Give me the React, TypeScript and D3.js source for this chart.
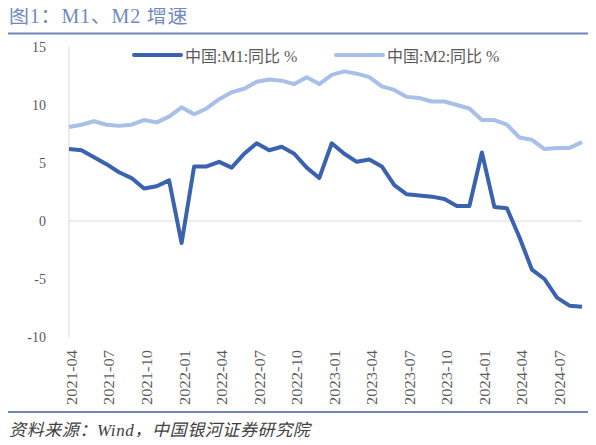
import React, { useRef, useEffect } from 'react';
import * as d3 from 'd3';

const months: string[] = [
  '2021-04', '2021-05', '2021-06', '2021-07', '2021-08', '2021-09', '2021-10', '2021-11', '2021-12',
  '2022-01', '2022-02', '2022-03', '2022-04', '2022-05', '2022-06', '2022-07', '2022-08', '2022-09',
  '2022-10', '2022-11', '2022-12',
  '2023-01', '2023-02', '2023-03', '2023-04', '2023-05', '2023-06', '2023-07', '2023-08', '2023-09',
  '2023-10', '2023-11', '2023-12',
  '2024-01', '2024-02', '2024-03', '2024-04', '2024-05', '2024-06', '2024-07', '2024-08', '2024-09',
];

const m1: number[] = [
  6.2, 6.1, 5.5, 4.9, 4.2, 3.7, 2.8, 3.0, 3.5,
  -1.9, 4.7, 4.7, 5.1, 4.6, 5.8, 6.7, 6.1, 6.4, 5.8, 4.6, 3.7,
  6.7, 5.8, 5.1, 5.3, 4.7, 3.1, 2.3, 2.2, 2.1, 1.9, 1.3, 1.3,
  5.9, 1.2, 1.1, -1.4, -4.2, -5.0, -6.6, -7.3, -7.4,
];

const m2: number[] = [
  8.1, 8.3, 8.6, 8.3, 8.2, 8.3, 8.7, 8.5, 9.0,
  9.8, 9.2, 9.7, 10.5, 11.1, 11.4, 12.0, 12.2, 12.1, 11.8, 12.4, 11.8,
  12.6, 12.9, 12.7, 12.4, 11.6, 11.3, 10.7, 10.6, 10.3, 10.3, 10.0, 9.7,
  8.7, 8.7, 8.3, 7.2, 7.0, 6.2, 6.3, 6.3, 6.8,
];

const yTicks: number[] = [-10, -5, 0, 5, 10, 15];
const seriesNames: string[] = ['中国:M1:同比 %', '中国:M2:同比 %'];
const colors: string[] = ['#3a62ae', '#a8bfe8'];

const W = 596;
const H = 445;
const serif = '"Liberation Serif", "Times New Roman", serif';
const cjk = '"Noto Sans CJK SC", sans-serif';

const Chart: React.FC = () => {
  const svgRef = useRef<SVGSVGElement | null>(null);

  useEffect(() => {
    const svg = d3.select(svgRef.current);
    svg.selectAll('*').remove();

    const x = d3.scalePoint<string>().domain(months).range([69, 582]);
    const y = d3.scaleLinear().domain([-10, 15]).range([337, 47]);

    // title and rules
    svg.append('text')
      .attr('x', 9).attr('y', 23)
      .attr('font-family', `${serif}, ${cjk}`)
      .attr('font-size', 20)
      .attr('letter-spacing', 0.8)
      .attr('fill', '#7288bd')
      .text('图1：M1、M2 增速');
    svg.append('line')
      .attr('x1', 8).attr('x2', W).attr('y1', 33.5).attr('y2', 33.5)
      .attr('stroke', '#6e86b8').attr('stroke-width', 2);
    svg.append('line')
      .attr('x1', 8).attr('x2', W).attr('y1', 412).attr('y2', 412)
      .attr('stroke', '#6e86b8').attr('stroke-width', 2);
    svg.append('text')
      .attr('x', 9).attr('y', 436)
      .attr('font-family', `${serif}, ${cjk}`)
      .attr('font-style', 'italic')
      .attr('font-size', 17)
      .attr('letter-spacing', 0.6)
      .attr('fill', '#404040')
      .text('资料来源：Wind，中国银河证券研究院');

    // y axis
    svg.append('line')
      .attr('x1', 69).attr('x2', 69).attr('y1', y(15)).attr('y2', y(-10))
      .attr('stroke', '#d9d9d9').attr('stroke-width', 1);
    svg.append('line')
      .attr('x1', 69).attr('x2', 582).attr('y1', y(0)).attr('y2', y(0))
      .attr('stroke', '#d9d9d9').attr('stroke-width', 1);

    svg.append('g')
      .selectAll('text')
      .data(yTicks)
      .enter()
      .append('text')
      .attr('x', 46)
      .attr('y', d => y(d))
      .attr('dy', '0.35em')
      .attr('text-anchor', 'end')
      .attr('font-family', serif)
      .attr('font-size', 14)
      .attr('fill', '#595959')
      .text(d => d);

    // x labels
    const labelMonths = months.filter((_, i) => i % 3 === 0);
    svg.append('g')
      .selectAll('text')
      .data(labelMonths)
      .enter()
      .append('text')
      .attr('transform', d => `translate(${(x(d) ?? 0) + 3},350) rotate(-90)`)
      .attr('dy', '0.35em')
      .attr('text-anchor', 'end')
      .attr('font-family', serif)
      .attr('font-size', 14)
      .attr('textLength', 55)
      .attr('lengthAdjust', 'spacingAndGlyphs')
      .attr('fill', '#595959')
      .text(d => d);

    // lines
    const line = d3.line<number>()
      .x((_, i) => x(months[i]) ?? 0)
      .y(d => y(d));

    [m2, m1].forEach((s, k) => {
      svg.append('path')
        .datum(s)
        .attr('d', line)
        .attr('fill', 'none')
        .attr('stroke', colors[1 - k])
        .attr('stroke-width', 4)
        .attr('stroke-linejoin', 'round');
    });

    // legend
    const legendX = [134, 336];
    seriesNames.forEach((name, i) => {
      svg.append('line')
        .attr('x1', legendX[i]).attr('x2', legendX[i] + 47)
        .attr('y1', 55).attr('y2', 55)
        .attr('stroke', colors[i]).attr('stroke-width', 4)
        .attr('stroke-linecap', 'round');
      svg.append('text')
        .attr('x', legendX[i] + 51).attr('y', 56)
        .attr('dy', '0.35em')
        .attr('font-family', `${serif}, ${cjk}`)
        .attr('font-size', 16)
        .attr('fill', '#595959')
        .text(name);
    });
  }, []);

  return <svg ref={svgRef} width={W} height={H} style={{ display: 'block' }}></svg>;
};

export default function App() {
  return (
    <div style={{ margin: -8 }}>
      <Chart />
    </div>
  );
}
